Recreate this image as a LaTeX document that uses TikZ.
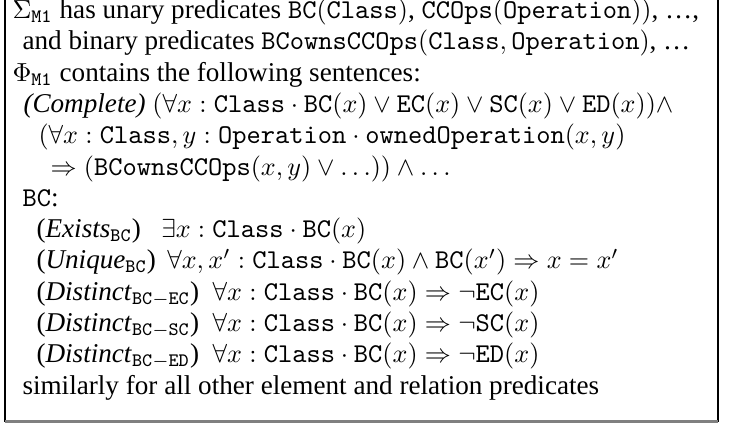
\documentclass[tikz,border=0pt]{standalone}
\usepackage{fontspec}
\setmainfont{Liberation Serif}
\begin{document}
\begin{tikzpicture}[x=0.3831pt,y=-0.3831pt,
  ln/.style={anchor=base west, inner sep=0pt, font=\fontsize{10.4}{12.5}\selectfont},
  frameline/.style={line width=0.45pt, black},
  bottomline/.style={line width=0.8pt, black!50}]
\useasboundingbox (0,0) rectangle (738,424);
\coordinate (tl) at (5,-6);
\coordinate (bl) at (5,421.5);
\coordinate (br) at (718,421.5);
\coordinate (tr) at (718,-6);
\draw[frameline] (tl) -- (bl);
\draw[frameline] (tr) -- (br);
\draw[bottomline] (bl) -- (br);
\node[ln] (l1) at (12,18.5) {$\Sigma_{\mathtt{M1}}$ has unary predicates $\mathtt{BC(Class)}$, $\mathtt{CCOps(Operation))}$, \ldots,};
\node[ln] (l2) at (22,49.8) {and binary predicates $\mathtt{BCownsCCOps}(\mathtt{Class},\mathtt{Operation})$, \ldots};
\node[ln] (l3) at (12,81.1) {$\Phi_{\mathtt{M1}}$ contains the following sentences:};
\node[ln] (l4) at (23,112.4) {\textit{(Complete)} $(\forall x : \mathtt{Class} \cdot \mathtt{BC}(x) \vee \mathtt{EC}(x) \vee \mathtt{SC}(x) \vee \mathtt{ED}(x))\wedge$};
\node[ln] (l5) at (38,143.7) {$(\forall x : \mathtt{Class}, y : \mathtt{Operation} \cdot \mathtt{ownedOperation}(x,y)$};
\node[ln] (l6) at (50,175) {$\Rightarrow (\mathtt{BCownsCCOps}(x,y) \vee \ldots)) \wedge \ldots$};
\node[ln] (l7) at (22,206.3) {$\mathtt{BC}$:};
\node[ln] (l8) at (36,237.6) {(\textit{Exists}$_{\mathtt{BC}}$)\ \ \ $\exists x : \mathtt{Class} \cdot \mathtt{BC}(x)$};
\node[ln] (l9) at (36,268.9) {(\textit{Unique}$_{\mathtt{BC}}$)\ \,$\forall x, x' : \mathtt{Class} \cdot \mathtt{BC}(x) \wedge \mathtt{BC}(x') \Rightarrow x = x'$};
\node[ln] (l10) at (36,300.2) {(\textit{Distinct}$_{\mathtt{BC}-\mathtt{EC}}$)\ \ $\forall x : \mathtt{Class} \cdot \mathtt{BC}(x) \Rightarrow \neg\mathtt{EC}(x)$};
\node[ln] (l11) at (36,331.5) {(\textit{Distinct}$_{\mathtt{BC}-\mathtt{SC}}$)\ \ $\forall x : \mathtt{Class} \cdot \mathtt{BC}(x) \Rightarrow \neg\mathtt{SC}(x)$};
\node[ln] (l12) at (36,362.8) {(\textit{Distinct}$_{\mathtt{BC}-\mathtt{ED}}$)\ \ $\forall x : \mathtt{Class} \cdot \mathtt{BC}(x) \Rightarrow \neg\mathtt{ED}(x)$};
\node[ln] (l13) at (22,394.1) {similarly for all other element and relation predicates};
\end{tikzpicture}
\end{document}
